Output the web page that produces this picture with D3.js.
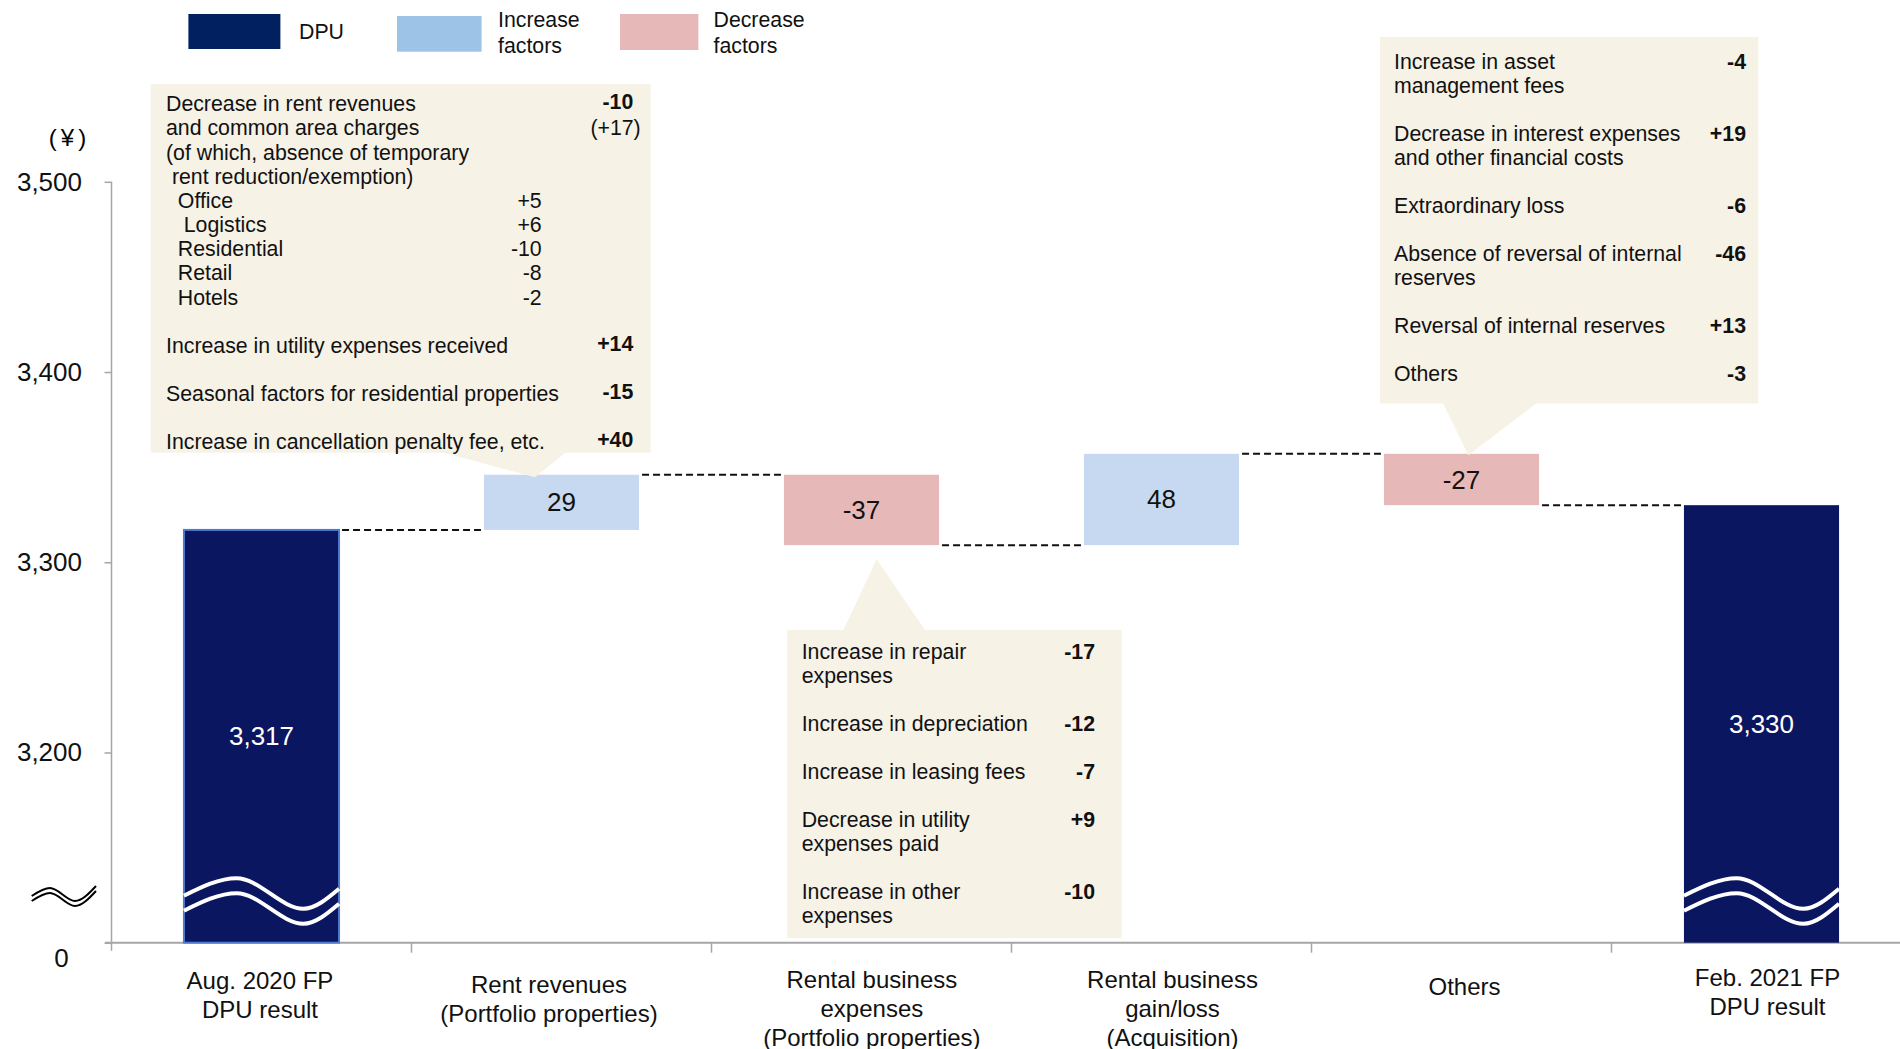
<!DOCTYPE html>
<html>
<head>
<meta charset="utf-8">
<script src="https://cdn.jsdelivr.net/npm/d3@7"></script>
<style>
  html, body { margin: 0; padding: 0; background: #fff; }
  svg { display: block; font-family: "Liberation Sans", Arial, sans-serif; }
  text { white-space: pre; }
</style>
</head>
<body>
<div id="chart"></div>
<script>
// ---- data ----
const categories = ["Aug. 2020 FP DPU result", "Rent revenues", "Rental business expenses", "Rental business gain/loss", "Others", "Feb. 2021 FP DPU result"];
const categoryLines = [
  ["Aug. 2020 FP", "DPU result"],
  ["Rent revenues", "(Portfolio properties)"],
  ["Rental business", "expenses", "(Portfolio properties)"],
  ["Rental business", "gain/loss", "(Acquisition)"],
  ["Others"],
  ["Feb. 2021 FP", "DPU result"]
];
const stepValues = [3317, 29, -37, 48, -27, 3330];
const stepKinds = ["total", "increase", "decrease", "increase", "decrease", "total"];
const valueLabels = ["3,317", "29", "-37", "48", "-27", "3,330"];

// the axis is broken: 3,100 sits on the baseline and is shown as 0
const axisFloor = 3100;
const yTicks = [3100, 3200, 3300, 3400, 3500];
const yTickLabels = ["0", "3,200", "3,300", "3,400", "3,500"];

const legendLabels = [["DPU"], ["Increase", "factors"], ["Decrease", "factors"]];
const legendKinds = ["total", "increase", "decrease"];

const rentNoteLabels = [
  ["Decrease in rent revenues", "and common area charges", "(of which, absence of temporary", " rent reduction/exemption)"],
  ["Increase in utility expenses received"],
  ["Seasonal factors for residential properties"],
  ["Increase in cancellation penalty fee, etc."]
];
const rentNoteValues = ["-10", "+14", "-15", "+40"];
const rentNoteSub = "(+17)";
const rentSegments = ["  Office", "   Logistics", "  Residential", "  Retail", "  Hotels"];
const rentSegmentValues = ["+5", "+6", "-10", "-8", "-2"];

const expenseNoteLabels = [
  ["Increase in repair", "expenses"],
  ["Increase in depreciation"],
  ["Increase in leasing fees"],
  ["Decrease in utility", "expenses paid"],
  ["Increase in other", "expenses"]
];
const expenseNoteValues = ["-17", "-12", "-7", "+9", "-10"];

const otherNoteLabels = [
  ["Increase in asset", "management fees"],
  ["Decrease in interest expenses", "and other financial costs"],
  ["Extraordinary loss"],
  ["Absence of reversal of internal", "reserves"],
  ["Reversal of internal reserves"],
  ["Others"]
];
const otherNoteValues = ["-4", "+19", "-6", "-46", "+13", "-3"];

// ---- look ----
const width = 1900;
const height = 1049;
const barColor = { total: "#0b1660", increase: "#c6d9f0", decrease: "#e6b9b8" };
const legendColor = { total: "#002060", increase: "#9dc3e6", decrease: "#e6b8b7" };
const noteFill = "#f6f2e6";
const axisGray = "#a6a6a6";

const svg = d3.select("#chart").append("svg")
  .attr("width", width)
  .attr("height", height);

const y = d3.scaleLinear()
  .domain([axisFloor, 3500])
  .range([942.7, 181.8]);

const x = d3.scaleBand()
  .domain(categories)
  .range([111.5, 1911.5])
  .paddingInner(0.483)
  .paddingOuter(0.2415);

// running totals for the waterfall
let running = 0;
const bars = stepValues.map((v, i) => {
  let start, end;
  if (stepKinds[i] === "total") { start = axisFloor; end = v; }
  else { start = running; end = running + v; }
  running = end;
  return { cat: categories[i], kind: stepKinds[i], start, end, label: valueLabels[i] };
});

// ---- axes ----
const yAxis = svg.append("g")
  .attr("transform", "translate(111.5,0)")
  .call(d3.axisLeft(y).tickValues(yTicks).tickFormat((d, i) => yTickLabels[i]).tickSize(7).tickPadding(22.5));
yAxis.select(".domain").remove();
yAxis.selectAll(".tick line").attr("stroke", axisGray).attr("stroke-width", 1.5);
yAxis.selectAll(".tick text")
  .attr("font-size", 26)
  .attr("font-family", "Liberation Sans, Arial, sans-serif")
  .attr("fill", "#111");
// the "0" label sits below the baseline
yAxis.selectAll(".tick").filter(d => d === axisFloor).select("text")
  .attr("x", -50).attr("text-anchor", "middle").attr("dy", "0.32em")
  .attr("transform", "translate(0,15)");

svg.append("line")
  .attr("x1", 111.5).attr("x2", 111.5)
  .attr("y1", y(3500)).attr("y2", y(axisFloor) + 8)
  .attr("stroke", axisGray).attr("stroke-width", 1.5);

svg.append("line")
  .attr("x1", 105).attr("x2", width)
  .attr("y1", y(axisFloor)).attr("y2", y(axisFloor))
  .attr("stroke", axisGray).attr("stroke-width", 2);

const gap = (x.step() - x.bandwidth()) / 2;
svg.selectAll(".xtick").data(categories.slice(1))
  .enter().append("line")
  .attr("x1", d => x(d) - gap).attr("x2", d => x(d) - gap)
  .attr("y1", y(axisFloor)).attr("y2", y(axisFloor) + 10)
  .attr("stroke", axisGray).attr("stroke-width", 1.5);

svg.append("text")
  .attr("x", 69.5).attr("y", 137)
  .attr("text-anchor", "middle").attr("dominant-baseline", "central")
  .attr("font-size", 24).attr("letter-spacing", 4)
  .text("(¥)");

// axis break mark on the left
const breakLine = d3.line().curve(d3.curveMonotoneX);
[0, 5].forEach(off => {
  svg.append("path")
    .attr("d", breakLine([[31.7, 896 + off], [50, 888 + off], [75, 901 + off], [96, 886 + off]]))
    .attr("fill", "none").attr("stroke", "#000").attr("stroke-width", 2);
});

// ---- bars ----
svg.selectAll(".bar").data(bars)
  .enter().append("rect")
  .attr("x", d => x(d.cat))
  .attr("y", d => y(Math.max(d.start, d.end)))
  .attr("width", x.bandwidth())
  .attr("height", d => Math.abs(y(d.start) - y(d.end)))
  .attr("fill", d => barColor[d.kind])
  .attr("stroke", (d, i) => i === 0 ? "#4f7bd0" : "none")
  .attr("stroke-width", 2);

// white wave across the totals, marks the break
const waveLine = d3.line().curve(d3.curveMonotoneX);
bars.filter(d => d.kind === "total").forEach(d => {
  const x0 = x(d.cat), w = x.bandwidth(), base = y(axisFloor);
  [0, 15].forEach(off => {
    svg.append("path")
      .attr("d", waveLine([[x0, base - 47 + off], [x0 + w * 0.34, base - 64.5 + off], [x0 + w * 0.77, base - 34 + off], [x0 + w, base - 54 + off]]))
      .attr("fill", "none").attr("stroke", "#fff").attr("stroke-width", 4);
  });
});

svg.selectAll(".vlabel").data(bars)
  .enter().append("text")
  .attr("x", d => x(d.cat) + x.bandwidth() / 2)
  .attr("y", d => (y(d.start) + y(d.end)) / 2)
  .attr("text-anchor", "middle").attr("dominant-baseline", "central")
  .attr("font-size", 26)
  .attr("fill", d => d.kind === "total" ? "#fff" : "#111")
  .text(d => d.label);

// dashed connectors
svg.selectAll(".conn").data(bars.slice(0, -1))
  .enter().append("line")
  .attr("x1", d => x(d.cat) + x.bandwidth() + 3)
  .attr("x2", (d, i) => x(bars[i + 1].cat) - 3)
  .attr("y1", d => y(d.end)).attr("y2", d => y(d.end))
  .attr("stroke", "#111").attr("stroke-width", 2)
  .attr("stroke-dasharray", "7,4");

// category labels
const labelDx = [-1.5, -12.5, 10.4, 11, 3, 6];
const labelY = [980, 984, 979, 979, 986, 977];
categoryLines.forEach((lines, i) => {
  const t = svg.append("text")
    .attr("x", x(categories[i]) + x.bandwidth() / 2 + labelDx[i])
    .attr("y", labelY[i])
    .attr("text-anchor", "middle").attr("dominant-baseline", "central")
    .attr("font-size", 24).attr("fill", "#111");
  lines.forEach((l, k) => t.append("tspan")
    .attr("x", x(categories[i]) + x.bandwidth() / 2 + labelDx[i])
    .attr("y", labelY[i] + k * 29)
    .text(l));
});

// ---- legend ----
const legendBoxes = [[188.4, 14, 92, 35], [397, 16, 84.6, 35.7], [620, 14, 78.4, 36]];
const legendTextX = [299, 498, 713.5];
legendKinds.forEach((k, i) => {
  const b = legendBoxes[i];
  svg.append("rect").attr("x", b[0]).attr("y", b[1]).attr("width", b[2]).attr("height", b[3])
    .attr("fill", legendColor[k]);
  const lines = legendLabels[i];
  lines.forEach((l, j) => svg.append("text")
    .attr("x", legendTextX[i])
    .attr("y", lines.length === 1 ? 32.3 : 20 + j * 25.5)
    .attr("dominant-baseline", "central")
    .attr("font-size", 21.3).attr("fill", "#111")
    .text(l));
});

// ---- callouts ----
function drawCallout(cfg) {
  const g = svg.append("g");
  const b = bars[cfg.bar];
  const [bx, by, bw, bh] = cfg.box;
  const apexX = x(b.cat) + cfg.apexDx;
  const apexY = cfg.side === "top" ? y(Math.max(b.start, b.end)) + cfg.apexDy
                                   : y(Math.min(b.start, b.end)) + cfg.apexDy;
  const baseY = cfg.side === "top" ? by + bh - 1 : by + 1;
  g.append("polygon")
    .attr("points", [[cfg.base[0], baseY], [cfg.base[1], baseY], [apexX, apexY]].map(p => p.join(",")).join(" "))
    .attr("fill", noteFill);
  g.append("rect").attr("x", bx).attr("y", by).attr("width", bw).attr("height", bh).attr("fill", noteFill);

  let row = 0;
  cfg.labels.forEach((lines, i) => {
    lines.forEach((l, k) => g.append("text")
      .attr("x", bx + cfg.textDx)
      .attr("y", cfg.y0 + (row + k) * cfg.lh)
      .attr("dominant-baseline", "central")
      .attr("font-size", 21.3).attr("fill", "#111")
      .text(l));
    g.append("text")
      .attr("x", bx + bw - cfg.valueDr)
      .attr("y", cfg.y0 + row * cfg.lh + cfg.valueDy)
      .attr("text-anchor", "end").attr("dominant-baseline", "central")
      .attr("font-size", 21.3).attr("font-weight", "bold").attr("fill", "#111")
      .text(cfg.values[i]);
    row += lines.length + 1;
  });
  return g;
}

const rentLabels = rentNoteLabels.map((l, i) => i === 0 ? l.concat(rentSegments) : l);
const rentCallout = drawCallout({
  bar: 1, side: "top", box: [150.7, 84, 500, 368.7], base: [440, 566.7],
  apexDx: 51, apexDy: 2.5,
  labels: rentLabels, values: rentNoteValues,
  textDx: 15.3, valueDr: 17.4, valueDy: -2, y0: 104.3, lh: 24.15
});
rentCallout.append("text")
  .attr("x", 640.7).attr("y", 104.3 + 24.15)
  .attr("text-anchor", "end").attr("dominant-baseline", "central")
  .attr("font-size", 21.3).attr("fill", "#111")
  .text(rentNoteSub);
rentSegmentValues.forEach((v, i) => rentCallout.append("text")
  .attr("x", 541.7).attr("y", 104.3 + (4 + i) * 24.15)
  .attr("text-anchor", "end").attr("dominant-baseline", "central")
  .attr("font-size", 21.3).attr("fill", "#111")
  .text(v));

drawCallout({
  bar: 2, side: "bottom", box: [787.3, 630, 334.4, 308], base: [843, 925.7],
  apexDx: 92.7, apexDy: 14,
  labels: expenseNoteLabels, values: expenseNoteValues,
  textDx: 14.4, valueDr: 26.7, valueDy: 0, y0: 651.7, lh: 24
});

drawCallout({
  bar: 4, side: "top", box: [1380, 37, 378.3, 366.5], base: [1442.7, 1537.3],
  apexDx: 84.4, apexDy: 1.5,
  labels: otherNoteLabels, values: otherNoteValues,
  textDx: 14, valueDr: 12.3, valueDy: 0, y0: 62.3, lh: 24
});
</script>
</body>
</html>
